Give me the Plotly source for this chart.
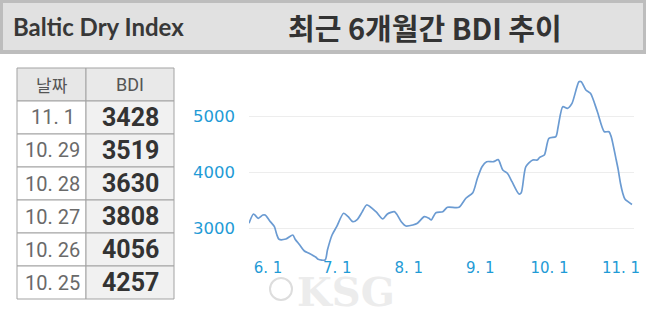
import plotly.graph_objects as go

W, H = 650, 314

# ---- data ----
dates = [
    "2021-05-19", "2021-05-21", "2021-05-23", "2021-05-25", "2021-05-26", "2021-05-28",
    "2021-05-30", "2021-05-31", "2021-06-01", "2021-06-04", "2021-06-07", "2021-06-08",
    "2021-06-10", "2021-06-12", "2021-06-14", "2021-06-17", "2021-06-18", "2021-06-21",
    "2021-06-22", "2021-06-24", "2021-06-26", "2021-06-29", "2021-07-01", "2021-07-03",
    "2021-07-05", "2021-07-07", "2021-07-09", "2021-07-13", "2021-07-16", "2021-07-18",
    "2021-07-21", "2021-07-22", "2021-07-24", "2021-07-26", "2021-07-29", "2021-07-31",
    "2021-08-03", "2021-08-05", "2021-08-06", "2021-08-08", "2021-08-11", "2021-08-13",
    "2021-08-18", "2021-08-21", "2021-08-24", "2021-08-26", "2021-08-28", "2021-08-30",
    "2021-09-02", "2021-09-04", "2021-09-06", "2021-09-08", "2021-09-10", "2021-09-13",
    "2021-09-14", "2021-09-16", "2021-09-19", "2021-09-21", "2021-09-22", "2021-09-24",
    "2021-09-26", "2021-09-29", "2021-09-30", "2021-10-02", "2021-10-04", "2021-10-06",
    "2021-10-09", "2021-10-10", "2021-10-12", "2021-10-14", "2021-10-17", "2021-10-20",
    "2021-10-22", "2021-10-23", "2021-10-25", "2021-10-26", "2021-10-27", "2021-10-28",
    "2021-10-29", "2021-11-01",
]
bdi = [
    3090, 3256, 3179, 3238, 3238, 3131,
    3029, 2892, 2803, 2808, 2880, 2803,
    2701, 2593, 2552, 2480, 2444, 2432,
    2611, 2880, 3029, 3269, 3208, 3118,
    3161, 3290, 3418, 3298, 3167, 3256,
    3298, 3256, 3118, 3041, 3059, 3090,
    3208, 3179, 3149, 3280, 3298, 3376,
    3376, 3538, 3638, 3896, 4104, 4194,
    4194, 4230, 4045, 3986, 3835, 3615,
    3638, 4104, 4224, 4224, 4272, 4313,
    4613, 4642, 4821, 5179, 5150, 5240,
    5627, 5627, 5478, 5419, 5090, 4731,
    4731, 4642, 4257, 4056, 3808, 3630,
    3519, 3428,
]

table_dates = ["11. 1", "10. 29", "10. 28", "10. 27", "10. 26", "10. 25"]
table_bdi = [3428, 3519, 3630, 3808, 4056, 4257]
table_header = ["날짜", "BDI"]

x_tickvals = ["2021-06-01", "2021-07-01", "2021-08-01", "2021-09-01", "2021-10-01", "2021-11-01"]
x_ticktext = ["6. 1", "7. 1", "8. 1", "9. 1", "10. 1", "11. 1"]
y_tickvals = [3000, 4000, 5000]

title_left = "Baltic Dry Index"
title_main = "최근 6개월간 BDI 추이"
watermark = "KSG"

# ---- helpers (pixel -> paper) ----
def px(x):
    return x / W

def py(y):
    return 1 - y / H

AXIS_BLUE = "#1f9bd6"
GRID = "#a3a3a3"

fig = go.Figure()

fig.add_trace(go.Scatter(
    x=dates, y=bdi, mode="lines",
    line=dict(color="#6b9bd2", width=1.7, shape="spline", smoothing=0.7),
    hoverinfo="skip", showlegend=False,
))

fig.update_layout(
    width=W, height=H,
    margin=dict(l=0, r=0, t=0, b=0),
    paper_bgcolor="white", plot_bgcolor="white",
    showlegend=False,
    xaxis=dict(
        type="date",
        domain=[px(249), px(634.3)],
        range=["2021-05-19", "2021-11-02"],
        tickvals=x_tickvals, ticktext=x_ticktext,
        showgrid=False, zeroline=False, showline=False,
        ticks="", ticklabelshift=-11, ticklabelstandoff=-8,
        tickfont=dict(family="DejaVu Sans", size=15, color=AXIS_BLUE),
        automargin=False,
    ),
    yaxis=dict(
        domain=[py(265), py(70)],
        range=[2342, 5837],
        tickvals=y_tickvals,
        showgrid=True, gridcolor="#ededed", gridwidth=1,
        zeroline=False, showline=False, ticks="",
        ticklabelstandoff=13,
        tickfont=dict(family="DejaVu Sans", size=16.5, color=AXIS_BLUE),
        automargin=False,
    ),
)

# ---- banner ----
fig.add_shape(type="rect", xref="paper", yref="paper",
              x0=px(0), x1=px(646), y0=py(54), y1=py(0),
              fillcolor="#bdbdbd", line=dict(width=0), layer="below")
fig.add_shape(type="rect", xref="paper", yref="paper",
              x0=px(3), x1=px(643), y0=py(50), y1=py(3),
              fillcolor="#e1e1e1", line=dict(width=0), layer="below")

fig.add_annotation(xref="paper", yref="paper", x=px(11), y=py(27),
                   xanchor="left", yanchor="middle", showarrow=False,
                   text=title_left,
                   font=dict(family="Lato", size=24, color="#383838", weight=700))
fig.add_annotation(xref="paper", yref="paper", x=px(425), y=py(27),
                   xanchor="center", yanchor="middle", showarrow=False,
                   text=title_main,
                   font=dict(family="Noto Sans CJK KR", size=29, color="#333333", weight=700))

# ---- table (built from table_header / table_dates / table_bdi) ----
col_edges = [17, 86, 174]
row_top, row_h = 68, 33
n_rows = len(table_dates) + 1
col_fill_header = ["#e7e7e7", "#e9e9e9"]
col_fill_body = ["#ffffff", "#f1f1f1"]
for r in range(n_rows):
    y0, y1 = row_top + r * row_h, row_top + (r + 1) * row_h
    for c in range(2):
        fill = col_fill_header[c] if r == 0 else col_fill_body[c]
        fig.add_shape(type="rect", xref="paper", yref="paper",
                      x0=px(col_edges[c]), x1=px(col_edges[c + 1]),
                      y0=py(y1), y1=py(y0),
                      fillcolor=fill, line=dict(color=GRID, width=1), layer="below")

def cell_center(r, c):
    return px((col_edges[c] + col_edges[c + 1]) / 2), py(row_top + r * row_h + row_h / 2)

hx, hy = cell_center(0, 0)
fig.add_annotation(xref="paper", yref="paper", x=hx, y=hy, showarrow=False,
                   xanchor="center", yanchor="middle", text=table_header[0],
                   font=dict(family="Noto Sans CJK KR", size=17, color="#555555"))
hx, hy = cell_center(0, 1)
fig.add_annotation(xref="paper", yref="paper", x=hx, y=hy, showarrow=False,
                   xanchor="center", yanchor="middle", text=table_header[1],
                   font=dict(family="Roboto", size=18, color="#555555"))
for i, (d, v) in enumerate(zip(table_dates, table_bdi)):
    cx, cy = cell_center(i + 1, 0)
    fig.add_annotation(xref="paper", yref="paper", x=cx + px(1), y=cy, showarrow=False,
                       xanchor="center", yanchor="middle", text=d,
                       font=dict(family="Roboto", size=20, color="#6a6a6a"))
    cx, cy = cell_center(i + 1, 1)
    fig.add_annotation(xref="paper", yref="paper", x=cx, y=cy, showarrow=False,
                       xanchor="center", yanchor="middle", text=str(v),
                       font=dict(family="Roboto", size=25, color="#333333", weight=700))

# ---- watermark ----
fig.add_shape(type="circle", xref="paper", yref="paper",
              x0=px(270), x1=px(292), y0=py(300), y1=py(278),
              line=dict(color="#dddddd", width=2), fillcolor="rgba(0,0,0,0)")
fig.add_annotation(xref="paper", yref="paper", x=px(346), y=py(291),
                   xanchor="center", yanchor="middle", showarrow=False,
                   text=watermark,
                   font=dict(family="DejaVu Serif", size=40, color="#ececec", weight=700))

fig.write_html("out.html")
